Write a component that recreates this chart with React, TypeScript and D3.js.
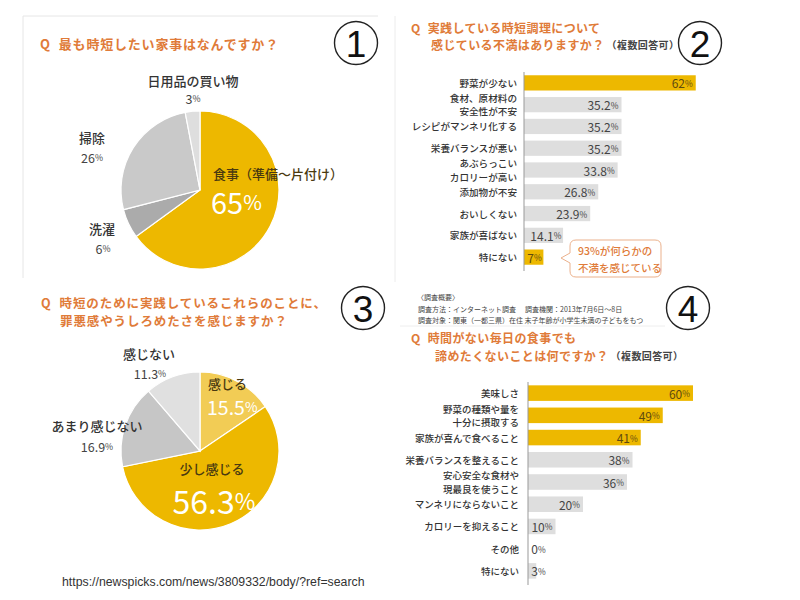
import React from "react";
import * as d3 from "d3";

const pie1Labels = ["食事（準備～片付け）", "洗濯", "掃除", "日用品の買い物"];
const pie1Values = [65, 6, 26, 3];
const pie1Colors = ["#EDB800", "#ABABAB", "#C9C9C9", "#DEDEDE"];

const pie3Labels = ["感じる", "少し感じる", "あまり感じない", "感じない"];
const pie3Values = [15.5, 56.3, 16.9, 11.3];
const pie3Colors = ["#F2CC55", "#EDB800", "#C6C6C6", "#E0E0E0"];

const bar2Labels = [
  ["野菜が少ない"],
  ["食材、原材料の", "安全性が不安"],
  ["レシピがマンネリ化する"],
  ["栄養バランスが悪い"],
  ["あぶらっこい", "カロリーが高い"],
  ["添加物が不安"],
  ["おいしくない"],
  ["家族が喜ばない"],
  ["特にない"],
];
const bar2Values = [62, 35.2, 35.2, 35.2, 33.8, 26.8, 23.9, 14.1, 7];
const bar2Gold = [true, false, false, false, false, false, false, false, true];

const bar4Labels = [
  ["美味しさ"],
  ["野菜の種類や量を", "十分に摂取する"],
  ["家族が喜んで食べること"],
  ["栄養バランスを整えること"],
  ["安心安全な食材や", "現最良を使うこと"],
  ["マンネリにならないこと"],
  ["カロリーを抑えること"],
  ["その他"],
  ["特にない"],
];
const bar4Values = [60, 49, 41, 38, 36, 20, 10, 0, 3];
const bar4Gold = [true, true, true, false, false, false, false, false, false];

const FONT = "'Noto Sans CJK JP', 'Noto Sans', sans-serif";
const ORANGE = "#E07B39";
const GOLD = "#EDB800";

const fmt = (v: number) => (Number.isInteger(v) ? String(v) : v.toFixed(1));

function Pct({ x, y, v, size, fill, anchor = "middle", weight = 400 }: any) {
  return (
    <text x={x} y={y} fontSize={size} fill={fill} textAnchor={anchor} dominantBaseline="central" fontFamily={FONT} fontWeight={weight}>
      {fmt(v)}
      <tspan fontSize={size * 0.7}>%</tspan>
    </text>
  );
}

function Circled({ cx, cy, n }: any) {
  return (
    <g>
      <circle cx={cx} cy={cy} r={21.5} fill="white" stroke="#222" strokeWidth={1.4} />
      <text x={cx} y={cy + 1} textAnchor="middle" dominantBaseline="central" fontSize={37} fontFamily="'Liberation Sans', Arial, sans-serif" fill="#111">
        {n}
      </text>
    </g>
  );
}

function Pie({ cx, cy, r, values, colors }: any) {
  const pie = d3.pie<number>().sort(null).value((d) => d);
  const arc = d3.arc<d3.PieArcDatum<number>>().innerRadius(0).outerRadius(r);
  return (
    <g transform={`translate(${cx},${cy})`}>
      {pie(values).map((a, i) => (
        <path key={i} d={arc(a) || ""} fill={colors[i]} stroke="white" strokeWidth={1.2} />
      ))}
    </g>
  );
}

function Bars({ labels, values, gold, axisX, y0, y1, pxPer, labelX, labelSize, lineGap }: any) {
  const keys = labels.map((_: any, i: number) => String(i));
  const y = d3.scaleBand().domain(keys).range([y0, y1]).paddingInner(0.3).paddingOuter(0.15);
  const x = d3.scaleLinear().domain([0, 100]).range([axisX, axisX + pxPer * 100]);
  return (
    <g>
      {values.map((v: number, i: number) => {
        const by = y(String(i))!;
        const bh = y.bandwidth();
        const cy = by + bh / 2;
        const end = x(v);
        const s = fmt(v);
        const estW = s.length * 6.6 + 7;
        const tx = Math.max(end - 3, axisX + 4 + estW);
        const lines: string[] = labels[i];
        return (
          <g key={i}>
            {v > 0 && <rect x={axisX} y={by} width={end - axisX} height={bh} fill={gold[i] ? GOLD : "#DEDEDE"} />}
            <Pct x={tx} y={cy} v={v} size={12} fill={gold[i] ? "#5E4A10" : "#444"} anchor="end" />
            {lines.map((l, j) => (
              <text key={j} x={labelX} y={cy + (j - (lines.length - 1) / 2) * lineGap} textAnchor="end" dominantBaseline="central" fontSize={labelSize} fontFamily={FONT} fill="#333" fontWeight={500}>
                {l}
              </text>
            ))}
          </g>
        );
      })}
      <line x1={axisX} x2={axisX} y1={y0} y2={y1 + 3} stroke="#999" strokeWidth={1} />
    </g>
  );
}

export default function App() {
  return (
    <svg width={800} height={600} style={{ position: "absolute", left: 0, top: 0, background: "white" }} fontFamily={FONT}>
      <rect width={800} height={600} fill="white" />
      {/* frames */}
      <line x1={23} x2={378} y1={16} y2={16} stroke="#E6E6E6" />
      <line x1={23} x2={23} y1={16} y2={278} stroke="#E6E6E6" />
      <line x1={395} x2={395} y1={16} y2={282} stroke="#ECECEC" />
      <line x1={400} x2={665} y1={326} y2={326} stroke="#EEEEEE" />

      {/* Panel 1 */}
      <text x={40} y={43} fontSize={13} fill={ORANGE} fontWeight={700} dominantBaseline="central" letterSpacing={0.8}>
        Q<tspan dx={8}>最も時短したい家事はなんですか？</tspan>
      </text>
      <Circled cx={356} cy={43} n="1" />
      <Pie cx={200} cy={190} r={79} values={pie1Values} colors={pie1Colors} />
      <text x={193} y={80} textAnchor="middle" dominantBaseline="central" fontSize={13} fill="#333" fontWeight={500}>{pie1Labels[3]}</text>
      <Pct x={193} y={98} v={pie1Values[3]} size={12.5} fill="#444" />
      <text x={92} y={137} textAnchor="middle" dominantBaseline="central" fontSize={13} fill="#333" fontWeight={500}>{pie1Labels[2]}</text>
      <Pct x={92} y={157} v={pie1Values[2]} size={12.5} fill="#444" />
      <text x={102} y={228} textAnchor="middle" dominantBaseline="central" fontSize={13} fill="#333" fontWeight={500}>{pie1Labels[1]}</text>
      <Pct x={103} y={248} v={pie1Values[1]} size={12.5} fill="#444" />
      <text x={213} y={173} dominantBaseline="central" fontSize={13} fill="#4A3A10" fontWeight={500}>{pie1Labels[0]}</text>
      <Pct x={211} y={201} v={pie1Values[0]} size={29} fill="white" anchor="start" />

      {/* Panel 2 */}
      <text x={411} y={27} fontSize={12} fill={ORANGE} fontWeight={700} dominantBaseline="central" letterSpacing={0.4}>
        Q<tspan dx={7}>実践している時短調理について</tspan>
      </text>
      <text x={431} y={44} fontSize={12} fill={ORANGE} fontWeight={700} dominantBaseline="central" letterSpacing={0.4}>
        感じている不満はありますか？<tspan fontSize={10} fill="#444" dx={2}>（複数回答可）</tspan>
      </text>
      <Circled cx={700} cy={43} n="2" />
      <Bars labels={bar2Labels} values={bar2Values} gold={bar2Gold} axisX={524} y0={72} y1={268} pxPer={2.77} labelX={517} labelSize={9.6} lineGap={13.2} />
      <path d="M570,246 Q570,240 576,240 L655,240 Q661,240 661,246 L661,271 Q661,277 655,277 L576,277 Q570,277 570,271 L570,263 L561,258 L570,253 Z" fill="white" stroke="#EBB18C" strokeWidth={1} />
      <text x={578} y={250} fontSize={10.5} fill={ORANGE} dominantBaseline="central" fontWeight={500}>93%が何らかの</text>
      <text x={578} y={267} fontSize={10.5} fill={ORANGE} dominantBaseline="central" fontWeight={500}>不満を感じている</text>
      <text x={417} y={297} fontSize={7} fill="#444" dominantBaseline="central">〈調査概要〉</text>
      <text x={418} y={309} fontSize={7} fill="#444" dominantBaseline="central">調査方法：インターネット調査</text>
      <text x={525} y={309} fontSize={7} fill="#444" dominantBaseline="central">調査機関：2013年7月6日～8日</text>
      <text x={418} y={320} fontSize={7} fill="#444" dominantBaseline="central">調査対象：関東（一都三県）在住 末子年齢が小学生未満の子どもをもつ</text>
      <Circled cx={688} cy={308} n="4" />

      {/* Panel 3 */}
      <text x={41} y={302} fontSize={12.5} fill={ORANGE} fontWeight={700} dominantBaseline="central" letterSpacing={0.9}>
        Q<tspan dx={8}>時短のために実践しているこれらのことに、</tspan>
      </text>
      <text x={60} y={320.5} fontSize={12.5} fill={ORANGE} fontWeight={700} dominantBaseline="central" letterSpacing={0.9}>
        罪悪感やうしろめたさを感じますか？
      </text>
      <Circled cx={363} cy={308} n="3" />
      <Pie cx={200} cy={451} r={79} values={pie3Values} colors={pie3Colors} />
      <text x={149} y={353} textAnchor="middle" dominantBaseline="central" fontSize={13} fill="#333" fontWeight={500}>{pie3Labels[3]}</text>
      <Pct x={150} y={373} v={pie3Values[3]} size={12.5} fill="#444" />
      <text x={97} y={425} textAnchor="middle" dominantBaseline="central" fontSize={13} fill="#333" fontWeight={500}>{pie3Labels[2]}</text>
      <Pct x={97} y={446} v={pie3Values[2]} size={12.5} fill="#444" />
      <text x={208} y={383} dominantBaseline="central" fontSize={13} fill="#4A3A10" fontWeight={500}>{pie3Labels[0]}</text>
      <Pct x={207} y={406} v={pie3Values[0]} size={19.5} fill="white" anchor="start" />
      <text x={212} y={468} textAnchor="middle" dominantBaseline="central" fontSize={13} fill="#4A3A10" fontWeight={500}>{pie3Labels[1]}</text>
      <Pct x={214} y={500} v={pie3Values[1]} size={32} fill="white" />
      <text x={62} y={582} fontSize={12.3} fill="#333" dominantBaseline="central" fontFamily="'Liberation Sans', Arial, sans-serif">
        https://newspicks.com/news/3809332/body/?ref=search
      </text>

      {/* Panel 4 */}
      <text x={411} y={337} fontSize={12} fill={ORANGE} fontWeight={700} dominantBaseline="central" letterSpacing={0.4}>
        Q<tspan dx={7}>時間がない毎日の食事でも</tspan>
      </text>
      <text x={435} y={355} fontSize={12} fill={ORANGE} fontWeight={700} dominantBaseline="central" letterSpacing={0.4}>
        諦めたくないことは何ですか？<tspan fontSize={10} fill="#444" dx={2}>（複数回答可）</tspan>
      </text>
      <Bars labels={bar4Labels} values={bar4Values} gold={bar4Gold} axisX={528} y0={382} y1={582} pxPer={2.75} labelX={519} labelSize={9.5} lineGap={13.2} />
    </svg>
  );
}
